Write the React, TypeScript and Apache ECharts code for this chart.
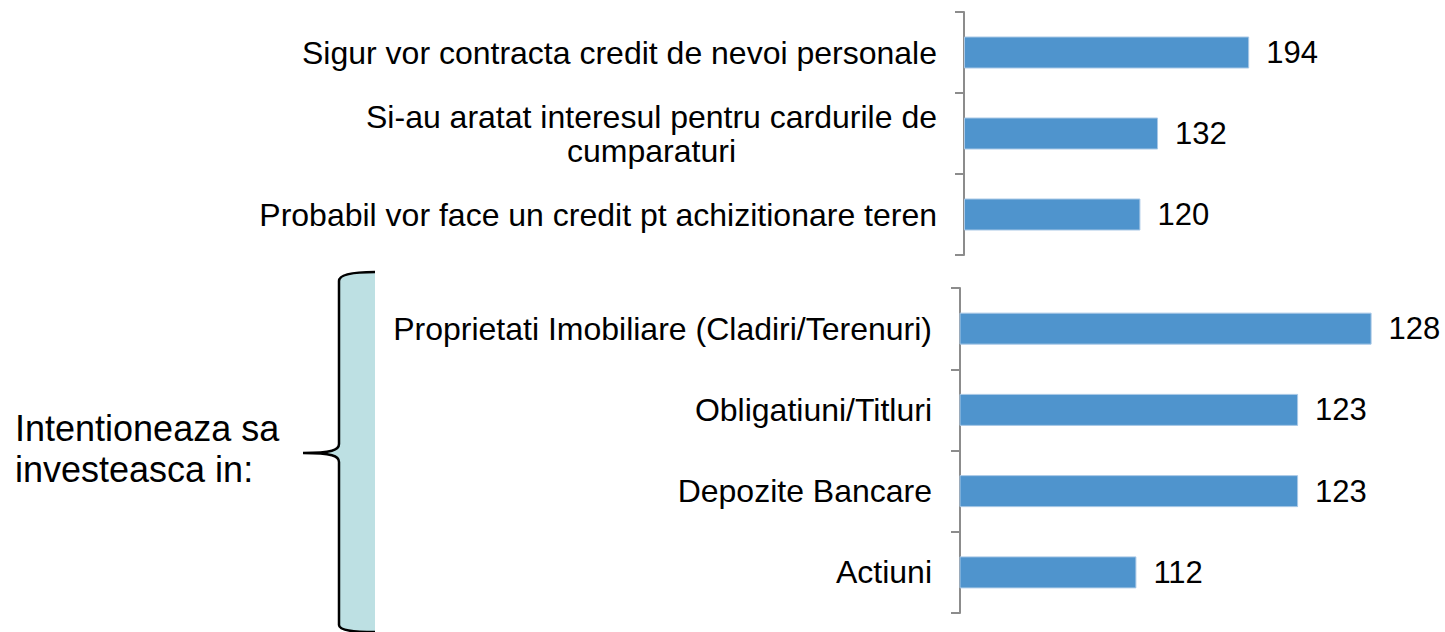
import React, { useEffect, useRef } from "react";
import * as echarts from "echarts";

const topCategories = [
  "Sigur vor contracta credit de nevoi personale",
  "Si-au aratat interesul pentru cardurile de\ncumparaturi",
  "Probabil vor face un credit pt achizitionare teren",
];
const topValues = [194, 132, 120];

const bottomCategories = [
  "Proprietati Imobiliare (Cladiri/Terenuri)",
  "Obligatiuni/Titluri",
  "Depozite Bancare",
  "Actiuni",
];
const bottomValues = [128, 123, 123, 112];

const sideLabel = "Intentioneaza sa\ninvesteasca in:";

const FONT = 'Arial, "Liberation Sans", sans-serif';
const BAR = "#4f94cd";
const AXIS = "#8c8c8c";

const braceFill =
  "M375,272 C356,272 339,274 339,281 L339,444 C339,450 332,453 303,453 C332,453 339,456 339,462 L339,625 C339,631 356,632 375,632 Z";
const braceStroke =
  "M375,272 C356,272 339,274 339,281 L339,444 C339,450 332,453 303,453 C332,453 339,456 339,462 L339,625 C339,631 356,632 375,632";

let registered = false;
function registerShapes() {
  if (registered) return;
  registered = true;
  echarts.graphic.registerShape("braceFill", echarts.graphic.extendPath(braceFill, {}) as any);
  echarts.graphic.registerShape("braceStroke", echarts.graphic.extendPath(braceStroke, {}) as any);
}

function catAxis(gridIndex: number, data: string[], margin: number) {
  return {
    type: "category",
    gridIndex,
    data,
    inverse: true,
    axisLine: { show: true, lineStyle: { color: AXIS, width: 2 } },
    axisTick: { show: true, length: 9, alignWithLabel: false, lineStyle: { color: AXIS, width: 2 } },
    axisLabel: {
      margin,
      color: "#000",
      fontFamily: FONT,
      fontSize: 32,
      formatter: (v: string) => v.split("\n").map((l) => `{c|${l}}`).join("\n"),
      rich: { c: { align: "center", fontSize: 32, fontFamily: FONT, color: "#000", lineHeight: 34 } },
    },
    splitLine: { show: false },
  };
}

export default function App() {
  const ref = useRef<HTMLDivElement>(null);
  useEffect(() => {
    if (!ref.current) return;
    registerShapes();
    const chart = echarts.init(ref.current, null, { renderer: "svg" });
    const labelStyle = {
      show: true,
      position: "right",
      distance: 17,
      color: "#000",
      fontFamily: FONT,
      fontSize: 31,
    };
    chart.setOption({
      animation: false,
      backgroundColor: "#fff",
      grid: [
        { left: 964, top: 12, height: 243, right: 187 },
        { left: 960, top: 288, height: 325, right: 44 },
      ],
      xAxis: [
        { type: "value", gridIndex: 0, min: 0, max: 200, show: false },
        { type: "value", gridIndex: 1, min: 100, max: 130, show: false },
      ],
      yAxis: [catAxis(0, topCategories, 27), catAxis(1, bottomCategories, 28)],
      series: [
        {
          type: "bar",
          xAxisIndex: 0,
          yAxisIndex: 0,
          data: topValues,
          barWidth: 32,
          itemStyle: { color: BAR, borderColor: "#a9c8e6", borderWidth: 1 },
          label: labelStyle,
        },
        {
          type: "bar",
          xAxisIndex: 1,
          yAxisIndex: 1,
          data: bottomValues,
          barWidth: 32,
          itemStyle: { color: BAR, borderColor: "#a9c8e6", borderWidth: 1 },
          label: labelStyle,
        },
      ],
      graphic: [
        { type: "braceFill", x: 0, y: 0, style: { fill: "#bde0e3", stroke: "none" } },
        { type: "braceStroke", x: 0, y: 0, style: { fill: "none", stroke: "#000", lineWidth: 2.5 } },
        {
          type: "text",
          left: 15,
          top: 408,
          style: {
            text: sideLabel,
            fontSize: 36,
            fontFamily: FONT,
            fill: "#000",
            lineHeight: 41,
          },
        },
      ],
    });
    return () => chart.dispose();
  }, []);
  return (
    <div
      ref={ref}
      style={{ position: "fixed", left: 0, top: 0, width: 1445, height: 632, background: "#fff" }}
    />
  );
}
